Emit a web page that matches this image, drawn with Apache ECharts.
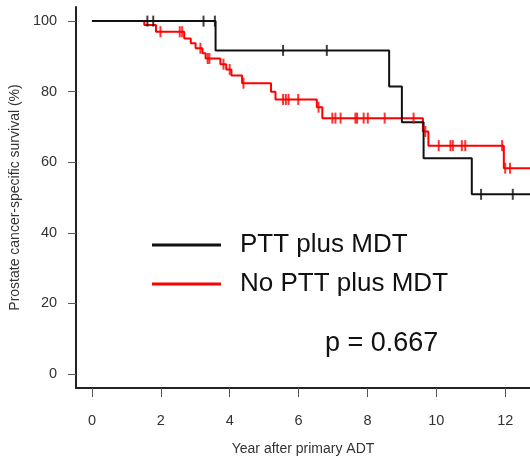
<!DOCTYPE html>
<html>
<head>
<meta charset="utf-8">
<script src="https://cdn.jsdelivr.net/npm/echarts@6/dist/echarts.min.js"></script>
<style>
  html, body { margin: 0; padding: 0; background: #fff; }
  #chart { width: 530px; height: 461px; }
</style>
</head>
<body>
<div id="chart"></div>
<script>
// Kaplan-Meier step curves: survival level (%) after each event time (years)
const groupNames = ['PTT plus MDT', 'No PTT plus MDT'];

const pttTimes = [0, 3.59, 8.63, 9.00, 9.63, 11.03, 12.8];
const pttSurv = [100, 91.7, 81.5, 71.3, 61.1, 50.9, 50.9];
const pttCensor = [1.61, 1.78, 3.24, 3.57, 5.55, 6.82, 11.30, 12.22];

const noPttTimes = [0, 1.52, 1.86, 2.68, 2.87, 3.01, 3.21, 3.30, 3.73, 3.90, 4.05, 4.36,
  5.20, 5.33, 6.53, 6.69, 9.61, 9.77, 11.96, 12.8];
const noPttSurv = [100, 98.9, 97.0, 95.1, 93.7, 92.3, 90.9, 89.4, 87.8, 86.3, 84.6, 82.4,
  80.0, 77.8, 75.6, 72.5, 68.7, 64.7, 58.3, 58.3];
const noPttCensor = [1.99, 2.55, 2.62, 3.15, 3.36, 3.41, 3.82, 4.00, 4.40, 5.55, 5.63, 5.71,
  5.99, 6.58, 6.98, 7.07, 7.22, 7.65, 7.70, 7.89, 8.01, 8.50, 9.34, 9.68, 10.07, 10.41,
  10.48, 10.74, 10.84, 11.91, 12.00, 12.14];

const xTicks = [0, 2, 4, 6, 8, 10, 12];
const yTicks = [0, 20, 40, 60, 80, 100];
const pValueText = 'p = 0.667';

// survival level in effect at time t
function levelAt(times, surv, t) {
  let s = surv[0];
  for (let i = 0; i < times.length; i++) {
    if (times[i] <= t) s = surv[i];
  }
  return s;
}
const zip = (a, b) => a.map((v, i) => [v, b[i]]);
const censorPts = (c, times, surv) => c.map(t => [t, levelAt(times, surv, t)]);

const black = '#111';
const red = '#ff0000';
const font = 'Liberation Sans, Arial, sans-serif';

const chart = echarts.init(document.getElementById('chart'));
chart.setOption({
  animation: false,
  backgroundColor: '#fff',
  textStyle: { fontFamily: font },
  grid: { left: 75, right: 0, top: 7, bottom: 73 },
  xAxis: {
    type: 'value', min: -0.46, max: 12.72,
    name: 'Year after primary ADT', nameLocation: 'middle', nameGap: 54,
    nameTextStyle: { fontSize: 14, color: '#333' },
    axisLine: { show: true, onZero: false, lineStyle: { color: '#222', width: 2 } },
    axisTick: { show: true, customValues: xTicks, length: 9, lineStyle: { color: '#555' } },
    axisLabel: { customValues: xTicks, fontSize: 14.5, color: '#333', margin: 25 },
    splitLine: { show: false }
  },
  yAxis: {
    type: 'value', min: -4, max: 104,
    name: 'Prostate cancer-specific survival (%)', nameLocation: 'middle', nameGap: 49,
    nameTextStyle: { fontSize: 14, color: '#333' },
    axisLine: { show: true, onZero: false, lineStyle: { color: '#222', width: 2 } },
    axisTick: { show: true, customValues: yTicks, length: 8, lineStyle: { color: '#555' } },
    axisLabel: { customValues: yTicks, fontSize: 14.5, color: '#333', margin: 19 },
    splitLine: { show: false }
  },
  legend: {
    data: groupNames,
    orient: 'vertical', left: 147, top: 225,
    icon: 'rect', itemWidth: 69, itemHeight: 3, itemGap: 9,
    textStyle: { fontSize: 26, color: '#111', padding: [0, 0, 0, 14], lineHeight: 30 }
  },
  graphic: [{
    type: 'text', left: 325, top: 330,
    style: { text: pValueText, fontSize: 27, fill: '#111', fontFamily: font }
  }],
  series: [
    {
      name: groupNames[1], type: 'line', step: 'end', data: zip(noPttTimes, noPttSurv),
      showSymbol: false, lineStyle: { color: red, width: 2 }, itemStyle: { color: red }, z: 2
    },
    {
      name: groupNames[0], type: 'line', step: 'end', data: zip(pttTimes, pttSurv),
      showSymbol: false, lineStyle: { color: black, width: 2 }, itemStyle: { color: black }, z: 3
    },
    {
      name: 'noPttCensor', type: 'scatter', data: censorPts(noPttCensor, noPttTimes, noPttSurv),
      symbol: 'rect', symbolSize: [2, 11], itemStyle: { color: red }, z: 4
    },
    {
      name: 'pttCensor', type: 'scatter', data: censorPts(pttCensor, pttTimes, pttSurv),
      symbol: 'rect', symbolSize: [2, 11], itemStyle: { color: black }, z: 5
    }
  ]
});
</script>
</body>
</html>
